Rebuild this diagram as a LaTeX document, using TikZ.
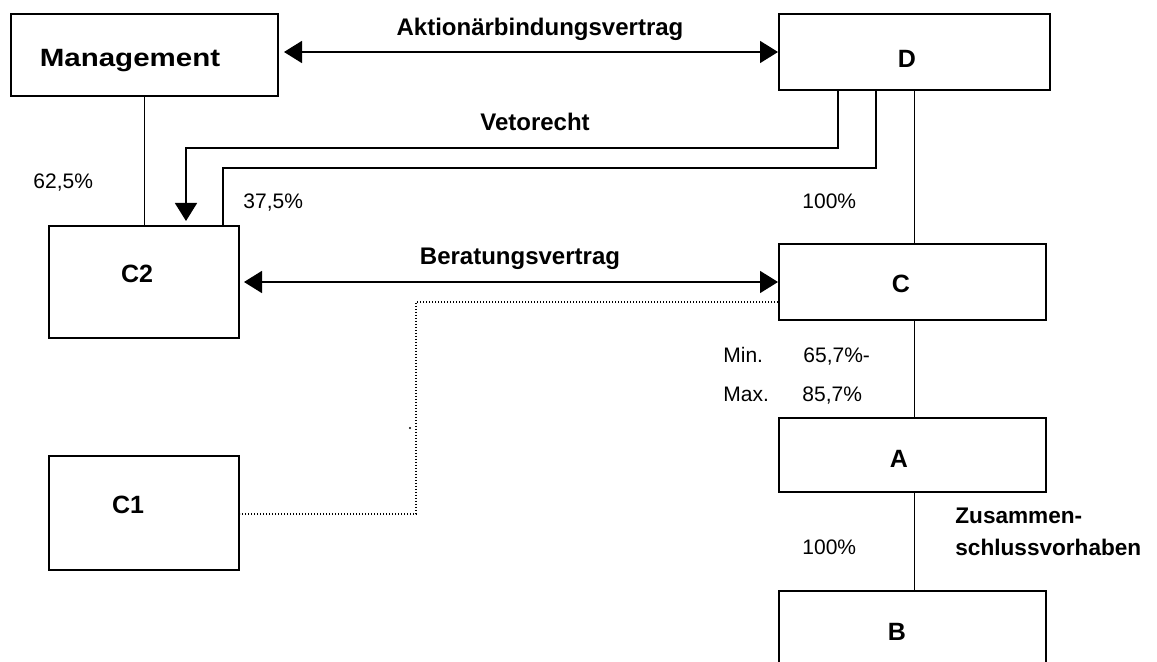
\documentclass[tikz,border=0pt]{standalone}
\usepackage{fontspec}
\setmainfont{Liberation Sans}
\usetikzlibrary{arrows.meta}

\begin{document}
\begin{tikzpicture}[x=0.5pt,y=-0.5pt,
		box/.style={draw,line width=1pt,inner sep=0pt},
		boxlbl/.style={font=\bfseries\fontsize{12.5}{15}\selectfont,inner sep=0pt,anchor=base},
		lbl/.style={font=\bfseries\fontsize{12}{14}\selectfont,inner sep=0pt,anchor=base},
		pct/.style={font=\fontsize{10.5}{12}\selectfont,inner sep=0pt,anchor=base west},
		conn/.style={line width=0.8pt},
		tip/.style={-{Triangle[length=9pt,width=11pt]}},
		dbl/.style={{Triangle[length=9pt,width=11pt]}-{Triangle[length=9pt,width=11pt]}},
		dotline/.style={line width=0.7pt,dash pattern=on 0.6pt off 0.9pt}]
		\useasboundingbox (0,0) rectangle (1157,662);
		\clip (0,0) rectangle (1157,662);
		% boxes
		\node[box,minimum width=133.5pt,minimum height=41pt] (mgmt) at (144.5,55) {};
		\node[box,minimum width=135.5pt,minimum height=38pt] (D) at (914.5,52) {};
		\node[box,minimum width=95pt,minimum height=56pt] (C2) at (144,282) {};
		\node[box,minimum width=133.5pt,minimum height=38pt] (C) at (912.5,282) {};
		\node[box,minimum width=133.5pt,minimum height=37pt] (A) at (912.5,455) {};
		\node[box,minimum width=95pt,minimum height=57pt] (C1) at (144,513) {};
		\node[box,minimum width=133.5pt,minimum height=49pt] (B) at (912.5,640) {};
		\node[boxlbl] (mgmt-t) at (130,67) {\addfontfeature{FakeStretch=1.18}Management};
		\node[boxlbl] (D-t) at (907,68) {D};
		\node[boxlbl] (C2-t) at (137,283) {C2};
		\node[boxlbl] (C-t) at (901,293) {C};
		\node[boxlbl] (A-t) at (899,468) {A};
		\node[boxlbl] (B-t) at (897,640) {B};
		\node[boxlbl] (C1-t) at (128,514) {C1};
		% connectors
		\draw[conn,dbl,shorten <=2.5pt] (mgmt.east |- D.west) -- (D.west);
		\draw[conn,tip,shorten >=2pt] (D.south -| 838,0) -- (838,148) -- (186,148) -- (C2.north -| 186,0);
		\draw[conn] (C2.north -| 223,0) -- (223,168) -- (876,168) -- (D.south -| 876,0);
		\draw[conn] (mgmt.south) -- (mgmt.south |- C2.north);
		\draw[conn] (D.south) -- (D.south |- C.north);
		\draw[conn] (C.south -| D.south) -- (A.north -| D.south);
		\draw[conn] (A.south -| D.south) -- (B.north -| D.south);
		\draw[conn,dbl,shorten <=2pt] (C2.east) -- (C.west);
		\draw[dotline] (C.west |- 0,302) -| (416,514) -- (C1.east |- 0,514);
		\fill (410,428) circle (0.6pt);
		% labels
		\node[lbl] (aktv) at (540,36) {Aktionärbindungsvertrag};
		\node[lbl] (veto) at (535,131) {Vetorecht};
		\node[lbl] (berv) at (520,265) {Beratungsvertrag};
		\node[pct] (p625) at (33,189) {62,5\%};
		\node[pct] (p375) at (243,209) {37,5\%};
		\node[pct] (p100a) at (802,209) {100\%};
		\node[pct] (pmin) at (723,363) {Min.};
		\node[pct] (p657) at (803,363) {65,7\%-};
		\node[pct] (pmax) at (723,402) {Max.};
		\node[pct] (p857) at (802,402) {85,7\%};
		\node[pct] (p100b) at (802,554) {100\%};
		\node[font=\bfseries\fontsize{11.3}{16}\selectfont,align=left,anchor=north west,inner sep=0pt] (zsv) at (955,508) {Zusammen-\\schlussvorhaben};
	\end{tikzpicture}
\end{document}
